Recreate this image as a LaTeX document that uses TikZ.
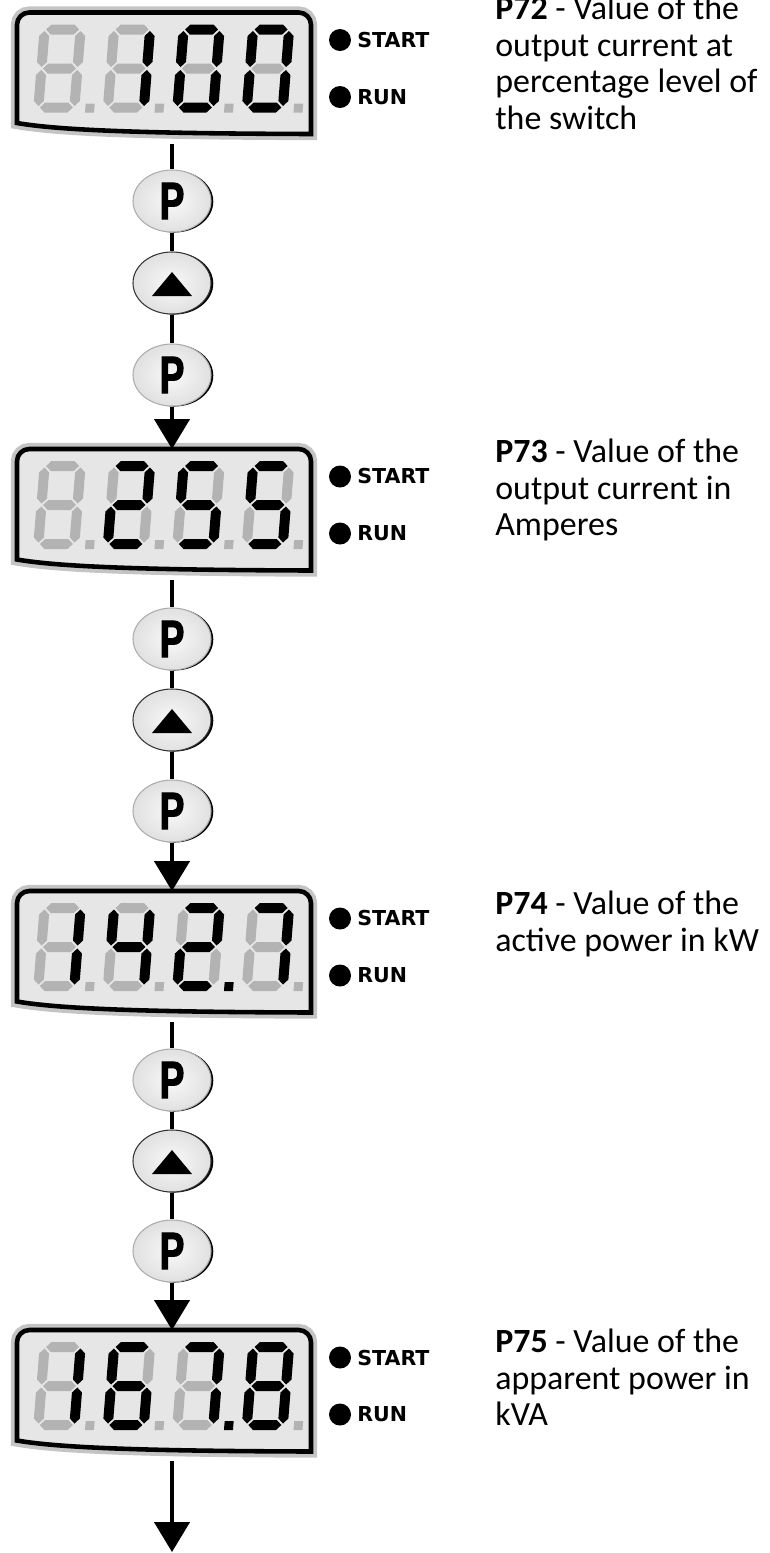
\documentclass[tikz,border=0pt]{standalone}
\usepackage{fontspec}
\setmainfont{Carlito}
\newfontfamily\lampfont{DejaVu Sans}
\newfontfamily\keyfont[FakeStretch=0.7,FakeBold=2]{Liberation Sans Bold}
\usetikzlibrary{arrows.meta,shapes.geometric,shadows}
\definecolor{lcdfill}{HTML}{E6E6E6}
\definecolor{lcdhalo}{HTML}{C4C4C4}
\definecolor{segoff}{HTML}{B3B3B3}
% segment shapes, local units = pixels, y downwards
\newcommand\hseg[3]{(#1,#3) -- ({#1+5},{#3-5}) -- ({#2-5},{#3-5}) -- (#2,#3) -- ({#2-5},{#3+5}) -- ({#1+5},{#3+5}) -- cycle}
\newcommand\vseg[3]{(#1,#2) -- ({#1+5},{#2+5}) -- ({#1+5},{#3-5}) -- (#1,#3) -- ({#1-5},{#3-5}) -- ({#1-5},{#2+5}) -- cycle}
% \digit{x}{a}{b}{c}{d}{e}{f}{g}{dp}, 1 = lit
\newcommand\digit[9]{%
\begin{scope}[shift={(#1,12)},xslant=0.08]
\path[s#2] \hseg{6.5}{39.5}{5};
\path[s#3] \vseg{41}{6.5}{42.5};
\path[s#4] \vseg{41}{45.5}{81.5};
\path[s#5] \hseg{6.5}{39.5}{83};
\path[s#6] \vseg{5}{45.5}{81.5};
\path[s#7] \vseg{5}{6.5}{42.5};
\path[s#8] \hseg{6.5}{39.5}{44};
\path[s#9] (52,79) rectangle (61,88);
\end{scope}}
\newcommand\lcdpath{(17,110.5) [rounded corners=7pt] -- (17,0) -- (311,0) [sharp corners] -- (311,121.5) .. controls (150,121) and (60,118) .. (17,110.5) -- cycle}
\newcommand\lcdframe[1]{%
\path[draw=lcdhalo,line width=7pt] \lcdpath;
\path[draw=black,fill=lcdfill,line width=2.6pt] \lcdpath;
\fill (340,27.5) circle[radius=11];
\node[lamp] (start#1) at (357,27.5) {START};
\fill (340,84.5) circle[radius=11];
\node[lamp] (run#1) at (357,84.5) {RUN};
\coordinate (d#1t) at (172,0);
\coordinate (d#1b) at (172,131);}

\begin{document}
\begin{tikzpicture}[x=0.02cm,y=-0.02cm,
  s1/.style={fill=black},s0/.style={fill=segoff},
  lamp/.style={anchor=west,inner sep=0pt,font=\lampfont\bfseries\fontsize{11.7}{13}\selectfont},
  btn/.style={ellipse,minimum width=44.4pt,minimum height=35.3pt,inner sep=0pt,draw=gray!65,line width=0.6pt,
    inner color=gray!5,outer color=gray!24,drop shadow={shadow xshift=1.3pt,shadow yshift=-0.3pt,fill=black,opacity=1}},
  pbtn/.style={btn,font=\keyfont\fontsize{30}{30}\selectfont},
  ubtn/.style={btn,draw=gray!40!black},
  desc/.style={anchor=north west,inner sep=0pt,align=left,font=\fontsize{19.3}{20.7}\selectfont},
  wire/.style={line width=2pt},
  flow/.style={-{Triangle[width=20pt,length=17pt]}}]
\useasboundingbox (0,0) rectangle (769,1553);
\begin{scope}[shift={(0,12.5)}]
\lcdframe{1}
\digit{40}{0}{0}{0}{0}{0}{0}{0}{0}
\digit{109.5}{0}{1}{1}{0}{0}{0}{0}{0}
\digit{179}{1}{1}{1}{1}{1}{1}{0}{0}
\digit{248.5}{1}{1}{1}{1}{1}{1}{0}{0}
\node[desc] (t72) at (495,-16.5) {\textbf{P72} - Value of the\\output current at\\percentage level of\\the switch};
\node[pbtn] (p1) at (172,188.5) {P};
\node[ubtn] (u1) at (172,270.5) {};
\fill (u1) ++(-20,13) -- ++(40,0) -- ++(-20,-24) -- cycle;
\node[pbtn] (q1) at (172,362.5) {P};
\end{scope}
\begin{scope}[shift={(0,449)}]
\lcdframe{2}
\digit{40}{0}{0}{0}{0}{0}{0}{0}{0}
\digit{109.5}{1}{1}{0}{1}{1}{0}{1}{0}
\digit{179}{1}{0}{1}{1}{0}{1}{1}{0}
\digit{248.5}{1}{0}{1}{1}{0}{1}{1}{0}
\node[desc] (t73) at (495,-10) {\textbf{P73} - Value of the\\output current in\\Amperes};
\node[pbtn] (p2) at (172,190) {P};
\node[ubtn] (u2) at (172,271) {};
\fill (u2) ++(-20,13) -- ++(40,0) -- ++(-20,-24) -- cycle;
\node[pbtn] (q2) at (172,362) {P};
\end{scope}
\begin{scope}[shift={(0,891)}]
\lcdframe{3}
\digit{40}{0}{1}{1}{0}{0}{0}{0}{0}
\digit{109.5}{0}{1}{1}{0}{0}{1}{1}{0}
\digit{179}{1}{1}{0}{1}{1}{0}{1}{1}
\digit{248.5}{1}{1}{1}{0}{0}{0}{0}{0}
\node[desc] (t74) at (495,0) {\textbf{P74} - Value of the\\active power in kW};
\node[pbtn] (p3) at (172,189) {P};
\node[ubtn] (u3) at (172,270) {};
\fill (u3) ++(-20,13) -- ++(40,0) -- ++(-20,-24) -- cycle;
\node[pbtn] (q3) at (172,360) {P};
\end{scope}
\begin{scope}[shift={(0,1330)}]
\lcdframe{4}
\digit{40}{0}{1}{1}{0}{0}{0}{0}{0}
\digit{109.5}{1}{0}{1}{1}{1}{1}{1}{0}
\digit{179}{1}{1}{1}{0}{0}{0}{0}{1}
\digit{248.5}{1}{1}{1}{1}{1}{1}{1}{0}
\node[desc] (t75) at (495,-1) {\textbf{P75} - Value of the\\apparent power in\\kVA};
\coordinate (end) at (172,222);
\end{scope}
% connectors
\draw[wire] (d1b) -- (p1);
\draw[wire] (p1) -- (u1);
\draw[wire] (u1) -- (q1);
\draw[wire,flow] (q1) -- (d2t);
\draw[wire] (d2b) -- (p2);
\draw[wire] (p2) -- (u2);
\draw[wire] (u2) -- (q2);
\draw[wire,flow] (q2) -- (d3t);
\draw[wire] (d3b) -- (p3);
\draw[wire] (p3) -- (u3);
\draw[wire] (u3) -- (q3);
\draw[wire,flow] (q3) -- (d4t);
\draw[wire,flow] (d4b) -- (end);
\end{tikzpicture}
\end{document}
